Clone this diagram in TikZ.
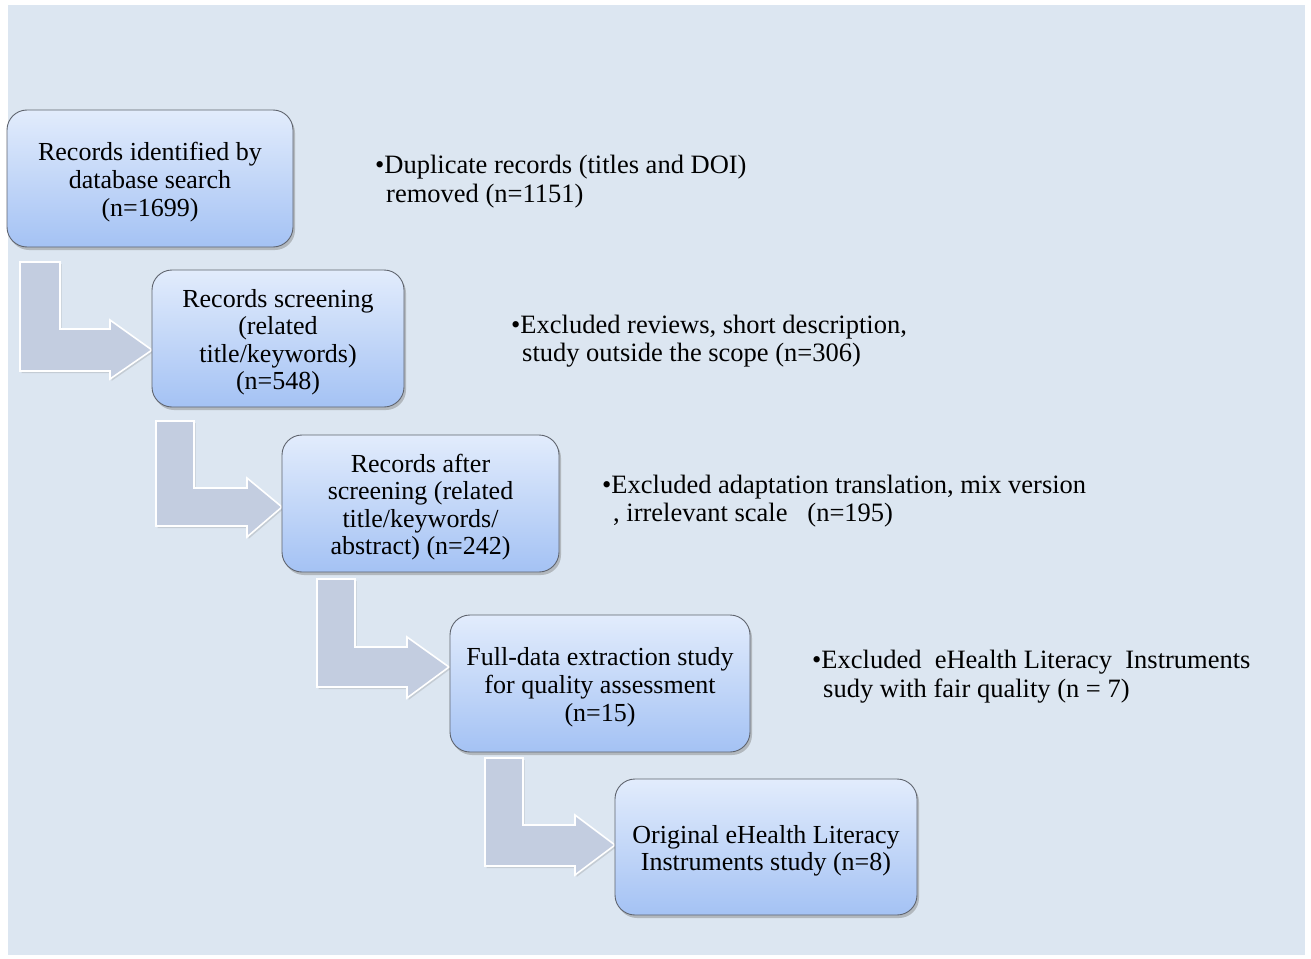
\documentclass[tikz,border=0pt]{standalone}
\usepackage{fontspec}
\setmainfont{Liberation Serif}
\usetikzlibrary{shadows}
\definecolor{bgc}{RGB}{220,230,241}
\definecolor{boxtop}{RGB}{226,236,252}
\definecolor{boxbot}{RGB}{164,194,244}
\definecolor{boxline}{RGB}{95,100,110}
\definecolor{arrfill}{RGB}{195,205,224}
\newcommand{\topstrut}{\rule{0pt}{25.5pt}}
\tikzset{
  stage/.style={rounded corners=20pt, draw=boxline, line width=0.9pt,
    top color=boxtop, bottom color=boxbot, align=center,
    font=\fontsize{26}{27.6}\selectfont, inner sep=0pt,
    drop shadow={opacity=0.45, shadow xshift=2pt, shadow yshift=-3pt}},
  bent/.style={fill=arrfill, draw=white, line width=1.6pt, line join=miter,
    drop shadow={opacity=0.25, shadow xshift=1.5pt, shadow yshift=-2pt}},
  note/.style={anchor=north west, align=left, inner sep=0pt,
    font=\fontsize{26.5}{28.5}\selectfont}
}
\begin{document}
\begin{tikzpicture}[x=1pt,y=-1pt]
\useasboundingbox (0,0) rectangle (1311,958);
\fill[bgc] (8,5) rectangle (1305,955);

% arrows
\draw[bent] (20,262) -- (60,262) -- (60,329) -- (110,329) -- (110,320) -- (152,350) -- (110,379) -- (110,371) -- (20,371) -- cycle;
\draw[bent] (156,421) -- (194,421) -- (194,488) -- (247,488) -- (247,478) -- (282,507) -- (247,537) -- (247,526) -- (156,526) -- cycle;
\draw[bent] (317,579) -- (355,579) -- (355,647) -- (407,647) -- (407,637) -- (449,667) -- (407,698) -- (407,687) -- (317,687) -- cycle;
\draw[bent] (485,758) -- (523,758) -- (523,825) -- (575,825) -- (575,815) -- (615,845) -- (575,875) -- (575,866) -- (485,866) -- cycle;

% boxes
\node[stage, minimum width=286pt, minimum height=137pt] (b1) at (150,178.5)
  {\topstrut Records identified by\\database search\\(n=1699)};
\node[stage, minimum width=252pt, minimum height=137pt] (b2) at (278,338.5)
  {\topstrut Records screening\\(related\\title/keywords)\\(n=548)};
\node[stage, minimum width=277pt, minimum height=137pt] (b3) at (420.5,503.5)
  {\topstrut Records after\\screening (related\\title/keywords/\\abstract) (n=242)};
\node[stage, minimum width=300pt, minimum height=137pt] (b4) at (600,683.5)
  {\topstrut Full-data extraction study\\for quality assessment\\(n=15)};
\node[stage, minimum width=302pt, minimum height=136pt] (b5) at (766,847)
  {\topstrut Original eHealth Literacy\\Instruments study (n=8)};

% notes
\node[note] (n1) at (375,155) {\textbullet Duplicate records (titles and DOI)\\\hspace*{11pt}removed (n=1151)};
\node[note] (n2) at (511,314.5) {\textbullet Excluded reviews, short description,\\\hspace*{11pt}study outside the scope (n=306)};
\node[note] (n3) at (602,474.5) {\textbullet Excluded adaptation translation, mix version\\\hspace*{11pt}, irrelevant scale \ \ (n=195)};
\node[note] (n4) at (812,650) {\textbullet Excluded \ eHealth Literacy \ Instruments\\\hspace*{11pt}sudy with fair quality (n = 7)};
\end{tikzpicture}
\end{document}
